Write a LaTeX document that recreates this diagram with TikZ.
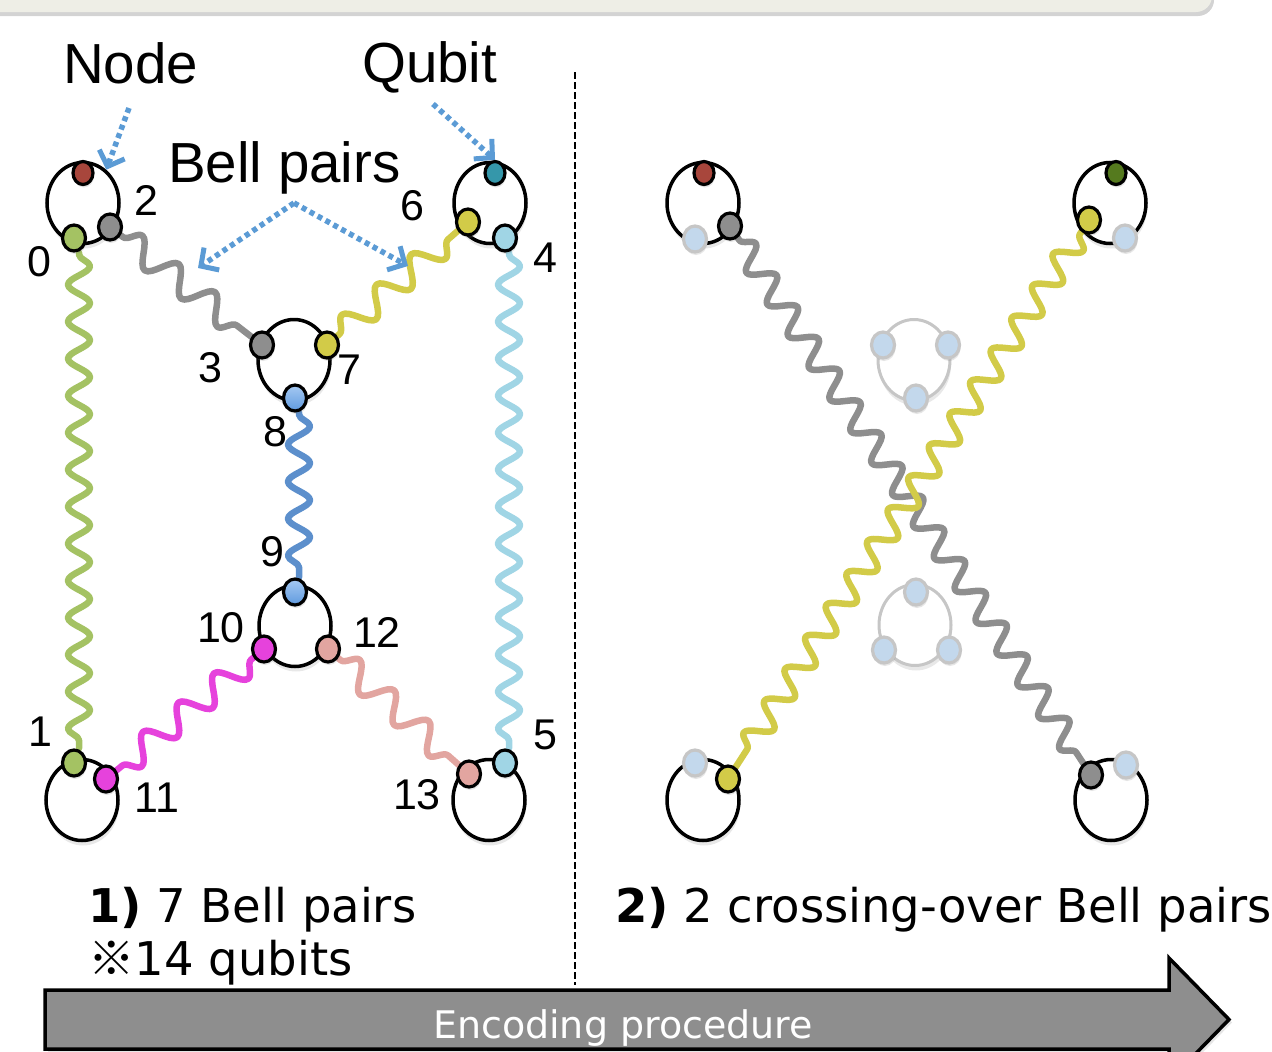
\documentclass[tikz,border=0pt]{standalone}
\usepackage{fontspec}
\setmainfont{Liberation Sans}
\newfontfamily\dvfont{DejaVu Sans}
\newfontfamily\cjkfont{Noto Sans CJK JP}
\usetikzlibrary{shapes.geometric,decorations.pathmorphing,arrows.meta,shadows}
\pgfdeclarelayer{bglayer}
\pgfdeclarelayer{midlayer}
\pgfsetlayers{bglayer,midlayer,main}
\definecolor{cRed}{HTML}{A8463C}
\definecolor{cGrey}{HTML}{8E8E8E}
\definecolor{cGreen}{HTML}{A4C263}
\definecolor{cTeal}{HTML}{3597AA}
\definecolor{cYellow}{HTML}{D2CB48}
\definecolor{cLBlue}{HTML}{A0D5E5}
\definecolor{cBlueTop}{HTML}{A6C9F2}
\definecolor{cBlueBot}{HTML}{5F9ADF}
\definecolor{cBlueWave}{HTML}{5C8FCC}
\definecolor{cMag}{HTML}{E642DC}
\definecolor{cPink}{HTML}{E2A5A0}
\definecolor{cDGreen}{HTML}{557A1E}
\definecolor{cFade}{HTML}{C3D8EC}
\definecolor{cFadeLine}{HTML}{C6C6C6}
\definecolor{cArrowBlue}{HTML}{5B9BD5}
\definecolor{cBox}{HTML}{EEEEE6}
\definecolor{cBar}{HTML}{8E8E8E}
\tikzset{
  nodeell/.style={ellipse, draw=black, line width=3.5pt, fill=white, minimum width=72pt, minimum height=81pt, inner sep=0pt,
    drop shadow={shadow xshift=1pt, shadow yshift=-5pt, opacity=0.18}},
  fadeell/.style={nodeell, draw=cFadeLine, line width=3pt},
  qubit/.style={ellipse, draw=black, line width=3.2pt, minimum width=23pt, minimum height=26pt, inner sep=0pt,
    drop shadow={shadow xshift=1pt, shadow yshift=-3pt, opacity=0.2}},
  smallq/.style={qubit, minimum width=20pt, minimum height=23pt},
  fadeq/.style={qubit, draw=cFadeLine, fill=cFade},
  blueq/.style={qubit, top color=cBlueTop, bottom color=cBlueBot},
  wave/.style={line width=6.5pt, line cap=round, line join=round,
    decoration={snake, segment length=37pt, amplitude=11pt, pre length=2pt, post length=2pt}, decorate},
  dwave/.style={line width=6.5pt, line cap=round, line join=round,
    decoration={snake, segment length=46pt, amplitude=13pt, pre length=3pt, post length=3pt}, decorate},
  xwave/.style={line width=6.5pt, line cap=round, line join=round,
    decoration={snake, segment length=38pt, amplitude=12pt, pre length=3pt, post length=3pt}, decorate},
  lbl/.style={font=\fontsize{43}{43}\selectfont, inner sep=0pt},
  big/.style={font=\fontsize{56.5}{56.5}\selectfont, inner sep=0pt, anchor=base west},
  capt/.style={font=\dvfont\fontsize{46.5}{46.5}\selectfont, inner sep=0pt, anchor=base west},
  pointer/.style={cArrowBlue, line width=5.5pt, dash pattern=on 5pt off 4pt,
    -{Straight Barb[length=13pt, width=27pt, line width=5pt]}},
  bar/.style={fill=cBar, draw=black, line width=3.5pt, line join=miter,
    drop shadow={shadow xshift=3pt, shadow yshift=-3pt, opacity=0.2}},
  divider/.style={line width=2.5pt, dash pattern=on 7pt off 3pt}
}
\begin{document}
\begin{tikzpicture}[x=1pt,y=-1pt]
\useasboundingbox (0,0) rectangle (1272,1052);
% top box
\fill[cBox, rounded corners=16pt, drop shadow={shadow xshift=2pt, shadow yshift=-4pt, opacity=0.35}] (-30,-50) rectangle (1212,12);

% node ellipses
\begin{pgfonlayer}{bglayer}
\node[nodeell] (NA) at (83,203) {};
\node[nodeell] (NB) at (490,203) {};
\node[nodeell] (NC) at (294,360) {};
\node[nodeell] (ND) at (295,626) {};
\node[nodeell] (NE) at (82,800) {};
\node[nodeell] (NF) at (489,800) {};
\node[nodeell] (RA) at (703,203) {};
\node[nodeell] (RB) at (1110,203) {};
\node[fadeell] (RC) at (914,360) {};
\node[fadeell] (RD) at (915,625) {};
\node[nodeell] (RE) at (703,800) {};
\node[nodeell] (RF) at (1111,800) {};
\end{pgfonlayer}

% qubits left
\node[smallq, fill=cRed] (qR) at (83,173) {};
\node[qubit, fill=cGrey] (q2) at (110,227) {};
\node[qubit, fill=cGreen] (q0) at (74,238) {};
\node[smallq, fill=cTeal] (qT) at (495,173) {};
\node[qubit, fill=cYellow] (q6) at (468,222) {};
\node[qubit, fill=cLBlue] (q4) at (505,238) {};
\node[qubit, fill=cGrey] (q3) at (262,345) {};
\node[qubit, fill=cYellow] (q7) at (327,345) {};
\node[blueq] (q8) at (295,398) {};
\node[blueq] (q9) at (295,592) {};
\node[qubit, fill=cMag] (q10) at (264,649) {};
\node[qubit, fill=cPink] (q12) at (328,649) {};
\node[qubit, fill=cGreen] (q1) at (74,763) {};
\node[qubit, fill=cMag] (q11) at (106,779) {};
\node[qubit, fill=cPink] (q13) at (469,774) {};
\node[qubit, fill=cLBlue] (q5) at (505,763) {};

% qubits right
\node[smallq, fill=cRed] (rR) at (704,173) {};
\node[fadeq] (rFa) at (695,239) {};
\node[qubit, fill=cGrey] (rG1) at (730,226) {};
\node[smallq, fill=cDGreen] (rDG) at (1116,173) {};
\node[qubit, fill=cYellow] (rY1) at (1089,220) {};
\node[fadeq] (rFb) at (1125,238) {};
\node[fadeq] (rFc) at (883,345) {};
\node[fadeq] (rFd) at (948,345) {};
\node[fadeq] (rFe) at (916,398) {};
\node[fadeq] (rFf) at (916,592) {};
\node[fadeq] (rFg) at (884,650) {};
\node[fadeq] (rFh) at (949,650) {};
\node[fadeq] (rFi) at (695,763) {};
\node[qubit, fill=cYellow] (rY2) at (728,779) {};
\node[qubit, fill=cGrey] (rG2) at (1091,775) {};
\node[fadeq] (rFj) at (1126,765) {};

% waves
\begin{pgfonlayer}{midlayer}
\draw[wave, cGreen] ([xshift=5pt]q0.south) -- ([xshift=5pt]q1.north);
\draw[wave, cLBlue] ([xshift=4pt]q4.south) -- ([xshift=4pt]q5.north);
\draw[wave, cBlueWave] ([xshift=4pt]q8.south) -- ([xshift=4pt]q9.north);
\draw[dwave, cGrey] (q2) -- (q3);
\draw[dwave, cYellow] (q7) -- (q6);
\draw[dwave, cMag] (q10) -- (q11);
\draw[dwave, cPink] (q12) -- (q13);
\draw[xwave, cGrey] (rG1) -- (rG2);
\draw[xwave, cYellow] (rY1) -- (rY2);
\end{pgfonlayer}

% divider
\coordinate (d1) at (575,72);
\coordinate (d2) at (575,985);
\draw[divider] (d1) -- (d2);

% titles
\node[big] (tNode) at (63,83) {Node};
\node[big] (tQubit) at (362,82) {Qubit};
\node[big] (tBell) at (168,182) {Bell pairs};

% pointers
\coordinate (nodeArr) at (129,108);
\coordinate (qArr) at (433,104);
\coordinate (bp) at (294,203);
\coordinate (bpL) at (198,268);
\coordinate (bpR) at (408,266);
\draw[pointer] (nodeArr) -- (NA.55);
\draw[pointer] (qArr) -- (qT.north);
\draw[pointer] (bp) -- (bpL);
\draw[pointer] (bp) -- (bpR);

% number labels
\node[lbl] (l0) at (39,262) {0};
\node[lbl] (l2) at (146,200) {2};
\node[lbl] (l6) at (412,206) {6};
\node[lbl] (l4) at (545,258) {4};
\node[lbl] (l3) at (210,368) {3};
\node[lbl] (l7) at (349,370) {7};
\node[lbl] (l8) at (275,432) {8};
\node[lbl] (l9) at (272,552) {9};
\node[lbl] (l10) at (221,628) {10};
\node[lbl] (l12) at (377,632) {12};
\node[lbl] (l1) at (40,732) {1};
\node[lbl] (l11) at (157,798) {11};
\node[lbl] (l13) at (417,795) {13};
\node[lbl] (l5) at (545,735) {5};

% captions
\node[capt] (c1) at (88,922) {\textbf{1)} 7 Bell pairs};
\node[capt] (c2) at (88,975) {{\cjkfont ※}14 qubits};
\node[capt] (c3) at (615,922) {\textbf{2)} 2 crossing-over Bell pairs};

% bottom arrow
\draw[bar] (45,990) -- (1169,990) -- (1169,958) -- (1229,1019.5) -- (1169,1081) -- (1169,1049) -- (45,1049) -- cycle;
\node[font=\dvfont\fontsize{38}{38}\selectfont, text=white, anchor=base, inner sep=0pt] (enc) at (623,1038) {Encoding procedure};
\end{tikzpicture}
\end{document}
